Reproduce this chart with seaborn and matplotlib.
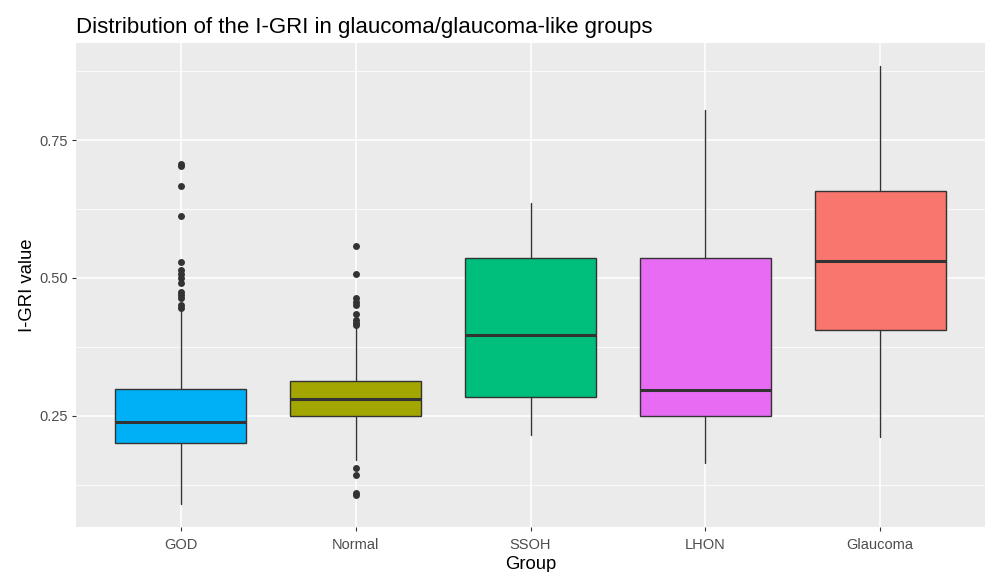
import matplotlib
matplotlib.use("Agg")
import matplotlib.pyplot as plt
from matplotlib.ticker import FixedLocator
import seaborn as sns
import pandas as pd

# Groups in display order and their fill colours
groups = ["GOD", "Normal", "SSOH", "LHON", "Glaucoma"]
fills = ["#00B0F6", "#A3A500", "#00BF7D", "#E76BF3", "#F8766D"]

# Five-number summaries of the I-GRI per group
whisker_low = [0.089, 0.170, 0.215, 0.165, 0.211]
q1 = [0.201, 0.250, 0.284, 0.250, 0.405]
median = [0.238, 0.281, 0.396, 0.297, 0.531]
q3 = [0.298, 0.313, 0.536, 0.536, 0.658]
whisker_high = [0.442, 0.411, 0.636, 0.805, 0.884]

# Outlying observations
outliers_god = [0.706, 0.702, 0.667, 0.613, 0.529, 0.514, 0.507, 0.499,
                0.491, 0.475, 0.469, 0.463, 0.450, 0.446]
outliers_normal = [0.557, 0.507, 0.463, 0.457, 0.451, 0.434, 0.424, 0.418,
                   0.414, 0.155, 0.142, 0.110, 0.106]

sns.set_theme(style="darkgrid")
plt.rcParams["font.family"] = ["Liberation Sans", "DejaVu Sans"]

fig = plt.figure(figsize=(9.86, 5.72), dpi=100)
ax = fig.add_axes([76 / 986, 1 - 527 / 572, (985 - 76) / 986, (527 - 43) / 572])
ax.set_facecolor("#EBEBEB")

stats = []
for i, g in enumerate(groups):
    stats.append(dict(label=g, whislo=whisker_low[i], q1=q1[i], med=median[i],
                      q3=q3[i], whishi=whisker_high[i], fliers=[]))

edge = "#333333"
bp = ax.bxp(stats, positions=range(len(groups)), widths=0.75, patch_artist=True,
            showfliers=False, showcaps=False,
            boxprops=dict(edgecolor=edge, linewidth=1.0),
            whiskerprops=dict(color=edge, linewidth=1.0),
            medianprops=dict(color=edge, linewidth=2.2, solid_capstyle="butt"),
            zorder=3)
for patch, c in zip(bp["boxes"], fills):
    patch.set_facecolor(c)

out_df = pd.DataFrame({
    "group": ["GOD"] * len(outliers_god) + ["Normal"] * len(outliers_normal),
    "value": outliers_god + outliers_normal,
})
sns.stripplot(data=out_df, x="group", y="value", order=groups, jitter=False,
              color=edge, size=5.0, linewidth=0, ax=ax, zorder=4)

ax.set_xlim(-0.6, len(groups) - 0.4)
ax.set_ylim(0.048, 0.926)
ax.set_xticks(range(len(groups)))
ax.set_xticklabels(groups)
ax.yaxis.set_major_locator(FixedLocator([0.25, 0.50, 0.75]))
ax.set_yticklabels(["0.25", "0.50", "0.75"])
ax.yaxis.set_minor_locator(FixedLocator([0.125, 0.375, 0.625, 0.875]))

ax.grid(which="major", color="white", linewidth=1.1)
ax.grid(which="minor", axis="y", color="white", linewidth=0.55)
ax.set_axisbelow(True)
for s in ax.spines.values():
    s.set_visible(False)

ax.tick_params(axis="both", which="major", length=3, width=0.8, color=edge,
               labelsize=10.5, labelcolor="#4D4D4D", pad=3, bottom=True, left=True)
ax.tick_params(axis="x", which="major", pad=5)
ax.tick_params(axis="both", which="minor", length=0)

ax.set_xlabel("Group", fontsize=13.3, color="black", labelpad=3)
ax.set_ylabel("I-GRI value", fontsize=13.3, color="black", labelpad=2)
ax.set_title("Distribution of the I-GRI in glaucoma/glaucoma-like groups",
             loc="left", fontsize=16, color="black", pad=7.5)

fig.savefig("out.png", dpi=100)
